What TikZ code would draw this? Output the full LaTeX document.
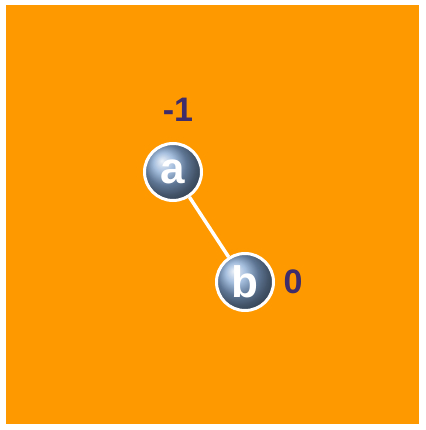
\documentclass[tikz,border=0pt]{standalone}
\usepackage{fontspec}
\setmainfont{Liberation Sans}
\usetikzlibrary{positioning}
\definecolor{bgorange}{HTML}{FF9900}
\definecolor{ballblue}{HTML}{86A8D2}
\definecolor{rankpurple}{HTML}{3E2D6A}
\tikzset{
  vertex/.style={circle, minimum size=57pt, inner sep=0pt, shading=ball, ball color=ballblue,
    draw=white, line width=3pt, text=white, font=\fontsize{44}{44}\selectfont\bfseries},
  rank/.style={text=rankpurple, font=\fontsize{34}{34}\selectfont\bfseries, inner sep=0pt},
  link/.style={draw=white, line width=3.5pt}
}
\begin{document}
\begin{tikzpicture}[x=1pt, y=-1pt]
	\useasboundingbox (0,0) rectangle (425,430);
	\fill[white] (0,0) rectangle (425,430);
	\fill[bgorange] (6,5) rectangle (419,424);
	\node[vertex] (a) at (173,172) {a};
	\node[vertex] (b) at (245,282) {b};
	\draw[link] (a) -- (b);
	\node[rank, above=62pt of a.center, xshift=5pt, anchor=center] (ra) {-1};
	\node[rank, right=48pt of b.center, anchor=center] (rb) {0};
\end{tikzpicture}
\end{document}
